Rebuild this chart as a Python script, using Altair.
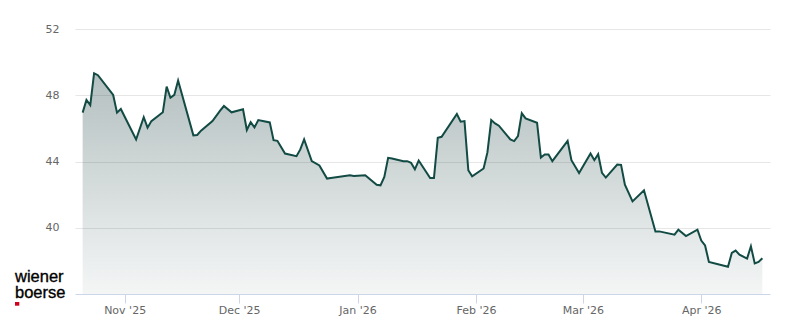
import altair as alt
import pandas as pd

dates = [
    "2025-10-21", "2025-10-22", "2025-10-23", "2025-10-24", "2025-10-25", "2025-10-29",
    "2025-10-30", "2025-10-31", "2025-11-04", "2025-11-06", "2025-11-07", "2025-11-08",
    "2025-11-11", "2025-11-12", "2025-11-13", "2025-11-14", "2025-11-15", "2025-11-19",
    "2025-11-20", "2025-11-21", "2025-11-24", "2025-11-26", "2025-11-27", "2025-11-29",
    "2025-12-02", "2025-12-03", "2025-12-04", "2025-12-05", "2025-12-06", "2025-12-09",
    "2025-12-10", "2025-12-11", "2025-12-13", "2025-12-16", "2025-12-17", "2025-12-18",
    "2025-12-20", "2025-12-22", "2025-12-24", "2025-12-25", "2025-12-30", "2025-12-31",
    "2026-01-03", "2026-01-06", "2026-01-07", "2026-01-08", "2026-01-09", "2026-01-10",
    "2026-01-13", "2026-01-14", "2026-01-15", "2026-01-16", "2026-01-17", "2026-01-20",
    "2026-01-21", "2026-01-22", "2026-01-23", "2026-01-27", "2026-01-28", "2026-01-29",
    "2026-01-30", "2026-01-31", "2026-02-03", "2026-02-04", "2026-02-05", "2026-02-06",
    "2026-02-07", "2026-02-10", "2026-02-11", "2026-02-12", "2026-02-13", "2026-02-14",
    "2026-02-17", "2026-02-18", "2026-02-19", "2026-02-20", "2026-02-21", "2026-02-25",
    "2026-02-26", "2026-02-28", "2026-03-03", "2026-03-04", "2026-03-05", "2026-03-06",
    "2026-03-07", "2026-03-10", "2026-03-11", "2026-03-12", "2026-03-14", "2026-03-17",
    "2026-03-20", "2026-03-21", "2026-03-25", "2026-03-26", "2026-03-28", "2026-03-31",
    "2026-04-01", "2026-04-02", "2026-04-03", "2026-04-08", "2026-04-09", "2026-04-10",
    "2026-04-11", "2026-04-13", "2026-04-14", "2026-04-15", "2026-04-16", "2026-04-17",
]
prices = [
    46.95, 47.72, 47.41, 49.33, 49.21, 48.02,
    46.95, 47.17, 45.33, 46.67, 46.04, 46.44,
    46.97, 48.52, 47.85, 48.02, 48.89, 45.58,
    45.60, 45.86, 46.44, 47.07, 47.35, 46.97,
    47.15, 45.90, 46.38, 46.06, 46.50, 46.36,
    45.29, 45.25, 44.48, 44.32, 44.73, 45.33,
    44.02, 43.76, 42.97, 43.00, 43.17, 43.13,
    43.17, 42.60, 42.56, 43.07, 44.22, 44.18,
    44.02, 44.02, 43.92, 43.53, 44.06, 43.00,
    43.00, 45.43, 45.49, 46.87, 46.40, 46.44,
    43.47, 43.11, 43.58, 44.55, 46.50, 46.30,
    46.16, 45.33, 45.23, 45.53, 46.91, 46.60,
    46.34, 44.24, 44.42, 44.42, 44.02, 45.25,
    44.08, 43.31, 44.48, 44.08, 44.44, 43.31,
    43.03, 43.82, 43.80, 42.60, 41.59, 42.26,
    39.78, 39.78, 39.58, 39.88, 39.50, 39.88,
    39.23, 38.93, 37.94, 37.65, 38.48, 38.62,
    38.38, 38.14, 38.88, 37.85, 37.94, 38.16,
]
y_ticks = [40, 44, 48, 52]
month_ticks = [(2025, 11), (2025, 12), (2026, 1), (2026, 2), (2026, 3), (2026, 4)]
logo_words = ["wiener", "boerse"]

df = pd.DataFrame({"date": dates, "price": prices})

x_enc = alt.X(
    "date:T",
    scale=alt.Scale(
        type="utc",
        domain=[alt.DateTime(year=2025, month=10, date=19, utc=True),
                alt.DateTime(year=2026, month=4, date=19, utc=True)],
    ),
    axis=alt.Axis(
        values=[alt.DateTime(year=y, month=m, date=1, utc=True) for y, m in month_ticks],
        format="%b '%y",
        title=None,
        grid=False,
        domainColor="#ccd6eb",
        tickColor="#ccd6eb",
        tickSize=9,
        labelPadding=1,
        labelColor="#666666",
        labelFontSize=11,
        labelFont="DejaVu Sans",
    ),
)
y_enc = alt.Y(
    "price:Q",
    scale=alt.Scale(domain=[36, 52], nice=False, zero=False),
    axis=alt.Axis(
        values=y_ticks,
        title=None,
        domain=False,
        ticks=False,
        grid=True,
        gridColor="#e6e6e6",
        labelPadding=16,
        labelColor="#666666",
        labelFontSize=11,
        labelFont="DejaVu Sans",
    ),
)

area = alt.Chart(df).mark_area(
    color=alt.Gradient(
        gradient="linear",
        stops=[
            alt.GradientStop(color="rgba(47,79,79,0.36)", offset=0),
            alt.GradientStop(color="rgba(47,79,79,0.05)", offset=1),
        ],
        x1=1, x2=1, y1=0, y2=1,
    ),
    interpolate="linear",
).encode(x=x_enc, y=y_enc, y2=alt.datum(36))

line = alt.Chart(df).mark_line(color="#124a44", strokeWidth=2).encode(x=x_enc, y=y_enc)

logo_style = dict(align="left", baseline="alphabetic", font="Liberation Sans", fontSize=16.5,
                  color="#000000", stroke="#000000", strokeWidth=0.35)
logo1 = alt.Chart(pd.DataFrame({"t": [logo_words[0]]})).mark_text(**logo_style).encode(
    text="t:N", x=alt.value(-60), y=alt.value(252.5))
logo2 = alt.Chart(pd.DataFrame({"t": [logo_words[1]]})).mark_text(**logo_style).encode(
    text="t:N", x=alt.value(-60), y=alt.value(269))
red = alt.Chart(pd.DataFrame({"t": [""]})).mark_rect(color="#d0021b").encode(
    x=alt.value(-60), x2=alt.value(-55.7), y=alt.value(273), y2=alt.value(276.7)
)

chart = alt.layer(area, line, logo1, logo2, red).properties(
    width=695,
    height=265,
    autosize=alt.AutoSizeParams(type="none"),
    padding={"left": 75, "top": 29, "right": 30, "bottom": 30},
    background="white",
).configure_view(stroke=None)

chart.save("out.html", embed_options={"renderer": "svg", "actions": False})
